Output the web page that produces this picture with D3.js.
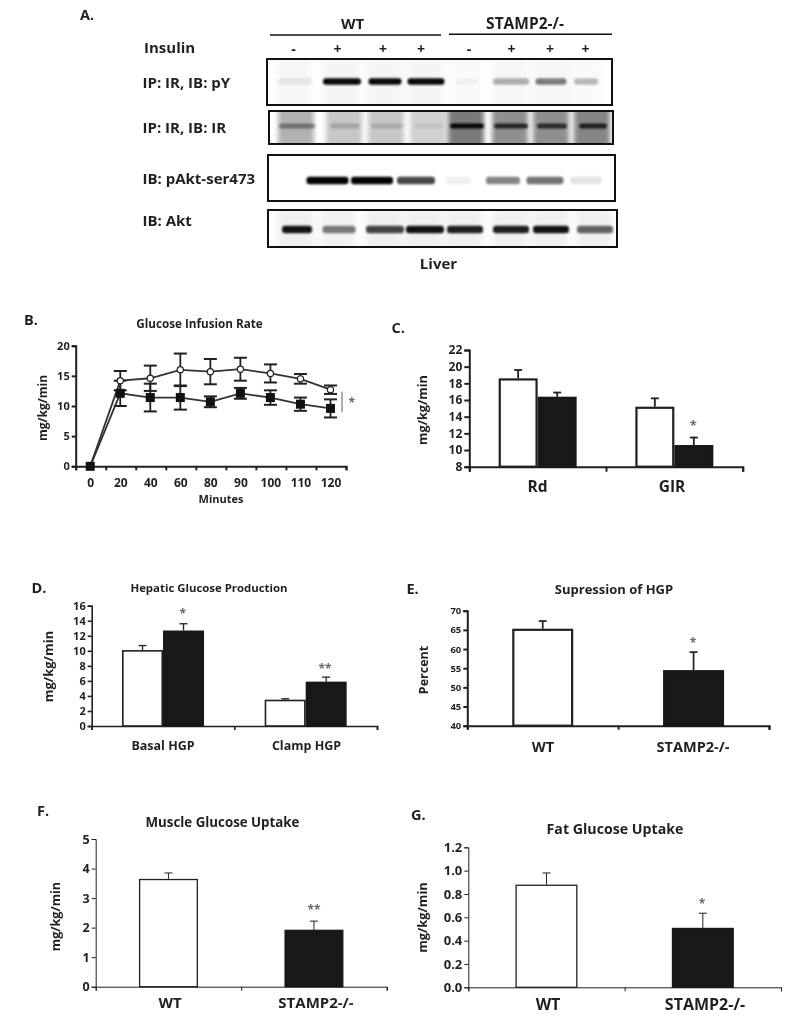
<!DOCTYPE html>
<html><head><meta charset="utf-8">
<script src="https://cdn.jsdelivr.net/npm/d3@7"></script>
<style>
html,body{margin:0;background:#fff}
svg{display:block;filter:blur(.4px)}
text{font-family:"Open Sans",sans-serif;font-weight:700;fill:#231f20}
</style></head><body>
<svg id="c" width="800" height="1030"></svg>
<script>
// ---------- data ----------
const insulinSigns = ["-","+","+","+","-","+","+","+"];
const blotNames = ["IP: IR, IB: pY","IP: IR, IB: IR","IB: pAkt-ser473","IB: Akt"];
const pYBands   = [.08,.97,.97,.97,.04,.3,.5,.26];
const irBands   = [.38,.18,.15,.06,.95,.75,.72,.8];
const pAktBands = [.0,1,1,.72,.06,.48,.55,.1];
const aktBands  = [.92,.5,.72,.93,.88,.88,.93,.6];
const pYHaze    = [.03,.04,.04,.04,.02,.03,.03,.02];
const irHaze    = [.3,.22,.22,.18,.52,.44,.44,.48];
const pAktHaze  = [0,0,0,0,0,0,0,0];
const aktHaze   = [.06,.05,.06,.06,.06,.06,.06,.06];

const minutes = ["0","20","40","60","80","90","100","110","120"];
const girWT   = [0,14.2,14.6,16,15.7,16.1,15.4,14.5,12.7];
const girWTe  = [0,1.6,2.1,2.7,2.1,1.9,1.5,.8,.7];
const girKO   = [0,12.1,11.4,11.4,10.7,12.1,11.4,10.3,9.6];
const girKOe  = [0,2.1,2.3,2,.9,.9,1.2,1.1,1.5];

const cCats=["Rd","GIR"];               const cWT=[18.6,15.2]; const cWTe=[1,1];     const cKO=[16.4,10.6]; const cKOe=[.5,.9];
const dCats=["Basal HGP","Clamp HGP"];  const dWT=[10.1,3.5];  const dWTe=[.6,.12];  const dKO=[12.7,5.9];  const dKOe=[.9,.6];
const genotypes=["WT","STAMP2-/-"];
const eVals=[65.3,54.5]; const eErr=[2,4.7];
const fVals=[3.65,1.93]; const fErr=[.2,.29];
const gVals=[.88,.51];   const gErr=[.1,.125];

// ---------- helpers ----------
const ink="#231f20";
const svg=d3.select("#c");
const defs=svg.append("defs");
[["b1",1.1],["b2",2.6],["b3",4.5]].forEach(([id,s])=>defs.append("filter").attr("id",id)
  .attr("x","-30%").attr("y","-100%").attr("width","160%").attr("height","300%")
  .append("feGaussianBlur").attr("stdDeviation",s));

function T(x,y,s,size,anchor="start",extra={}){
  const t=svg.append("text").attr("x",x).attr("y",y).attr("font-size",size).attr("text-anchor",anchor).text(s);
  if(extra.rotate) t.attr("transform",`rotate(-90 ${x} ${y})`);
  if(extra.fill) t.style("fill",extra.fill);
  return t;
}
function star(x,y,s,size=13){ T(x,y+size*.42,s,size,"middle",{fill:"#6a6a6a"}); }

function axes(o){
  const g=svg.append("g");
  const y=d3.scaleLinear().domain(o.yDomain).range([o.y0,o.y1]);
  const ya=g.append("g").attr("transform",`translate(${o.x0},0)`)
    .call(d3.axisLeft(y).tickValues(o.yTicks).tickSize(o.tick||5).tickFormat(o.yFmt||d3.format("d")));
  const xt=d3.scaleLinear().domain([0,o.n]).range([o.x0,o.x1]);
  const xa=g.append("g").attr("transform",`translate(0,${o.y0})`)
    .call(d3.axisBottom(xt).tickValues(d3.range(o.n+1)).tickSize(o.tick||5).tickFormat(""));
  [ya,xa].forEach(a=>{
    a.selectAll(".domain").attr("stroke",ink).attr("stroke-width",o.sw);
    a.selectAll(".tick line").attr("stroke",ink).attr("stroke-width",o.sw);
  });
  ya.selectAll(".tick text").attr("font-size",o.tickFont).attr("x",-(o.tick||5)-2);
  return y;
}
function errBar(x,top,base,cap,sw,color=ink){
  svg.append("line").attr("x1",x).attr("x2",x).attr("y1",base).attr("y2",top).attr("stroke",color).attr("stroke-width",sw);
  svg.append("line").attr("x1",x-cap/2).attr("x2",x+cap/2).attr("y1",top).attr("y2",top).attr("stroke",color).attr("stroke-width",sw);
}
function bar(x,w,v,y,filled,sw){
  svg.append("rect").attr("x",x+sw/2).attr("width",w-sw).attr("y",y(v)+sw/2).attr("height",y.range()[0]-y(v)-sw/2)
    .attr("fill",filled?"#1a1718":"#fff").attr("stroke",filled?"#1a1718":ink).attr("stroke-width",sw);
}

// ---------- A: blots ----------
const laneIdx=d3.range(8);
const rows=[
 {name:0,bands:pYBands,haze:pYHaze,blur:"b3",box:[267,59,345,46],bandY:81.5,h:6.5,
  cx:[295,342,385,426,467,511,551,586],w:[34,38,33,37,22,36,31,24],label:88},
 {name:1,bands:irBands,haze:irHaze,blur:"b2",box:[269,111,344,33],bandY:126,h:5,
  cx:[297,345,387,429,467,511,552,593],w:[36,30,32,30,34,34,30,28],label:133},
 {name:2,bands:pAktBands,haze:pAktHaze,blur:"b3",box:[268,155,347,46],bandY:180.5,h:7.5,
  cx:[286,327.5,372,416,458,503,545,586],w:[10,42,42,38,25,34,37,32],label:184},
 {name:3,bands:aktBands,haze:aktHaze,blur:"b3",box:[268,210,349,37],bandY:229.5,h:7.5,
  cx:[297,339,385,425,465,511,551,595],w:[30,33,38,38,36,36,36,36],label:226},
];
rows.forEach((r,i)=>{
  const [bx,by,bw,bh]=r.box;
  const lane=d3.scaleOrdinal(laneIdx,r.cx);
  defs.append("clipPath").attr("id","clip"+i).append("rect").attr("x",bx).attr("y",by).attr("width",bw).attr("height",bh);
  const g=svg.append("g").attr("clip-path",`url(#clip${i})`);
  g.selectAll(".haze").data(r.haze).join("rect").attr("class","haze")
    .attr("x",(d,k)=>lane(k)-19).attr("width",36).attr("y",by-8).attr("height",bh+16)
    .attr("fill","#000").attr("opacity",d=>d).attr("filter",`url(#${r.blur})`);
  g.selectAll(".band").data(r.bands).join("rect").attr("class","band")
    .attr("x",(d,k)=>lane(k)-r.w[k]/2).attr("width",(d,k)=>r.w[k])
    .attr("y",r.bandY-r.h/2).attr("height",r.h).attr("rx",3)
    .attr("fill","#000").attr("opacity",d=>d).attr("filter","url(#b1)");
  svg.append("rect").attr("x",bx).attr("y",by).attr("width",bw).attr("height",bh).attr("fill","none").attr("stroke","#111").attr("stroke-width",2);
  T(142.5,r.label,blotNames[r.name],15);
});
T(80,20,"A.",14.5);
T(352.5,29,"WT",15,"middle");
T(525,29,"STAMP2-/-",15.5,"middle");
svg.append("line").attr("x1",270).attr("x2",441).attr("y1",35).attr("y2",35).attr("stroke","#111").attr("stroke-width",1.6);
svg.append("line").attr("x1",449).attr("x2",612).attr("y1",34.3).attr("y2",34.3).attr("stroke","#111").attr("stroke-width",1.6);
T(144,53,"Insulin",15);
const signX=d3.scaleOrdinal(laneIdx,[293.6,337.4,383,421,469,511.5,550,585.5]);
insulinSigns.forEach((s,i)=>T(signX(i),54,s,14,"middle"));
T(438.5,268.5,"Liver",15,"middle");

// ---------- B: line chart ----------
{
  const y=axes({yDomain:[0,20],yTicks:[0,5,10,15,20],y0:466.3,y1:345.7,x0:75.7,x1:346,n:9,sw:2,tick:4,tickFont:11});
  const x=d3.scaleBand().domain(minutes).range([75.7,346]);
  const cx=d=>x(d)+x.bandwidth()/2-0.5;
  minutes.forEach(m=>T(cx(m)+.5,486.5,m,12,"middle"));
  const line=v=>d3.line().x((d,i)=>cx(minutes[i])).y(d=>y(d))(v);
  minutes.forEach((m,i)=>{ if(!i) return;
    [[girWT,girWTe],[girKO,girKOe]].forEach(([v,e])=>{
      const xx=cx(m);
      svg.append("line").attr("x1",xx).attr("x2",xx).attr("y1",y(v[i]-e[i])).attr("y2",y(v[i]+e[i])).attr("stroke",ink).attr("stroke-width",1.8);
      [1,-1].forEach(s=>svg.append("line").attr("x1",xx-6.5).attr("x2",xx+6.5).attr("y1",y(v[i]+s*e[i])).attr("y2",y(v[i]+s*e[i])).attr("stroke",ink).attr("stroke-width",2));
    });
  });
  svg.append("path").attr("d",line(girWT)).attr("fill","none").attr("stroke","#333").attr("stroke-width",1.8);
  svg.append("path").attr("d",line(girKO)).attr("fill","none").attr("stroke","#333").attr("stroke-width",1.8);
  svg.selectAll(".w").data(girWT).join("circle").attr("class","w").attr("cx",(d,i)=>cx(minutes[i])).attr("cy",d=>y(d)).attr("r",3.1).attr("fill","#fff").attr("stroke",ink).attr("stroke-width",1.2);
  svg.selectAll(".k").data(girKO).join("rect").attr("class","k").attr("x",(d,i)=>cx(minutes[i])-4.5).attr("y",d=>y(d)-4.5).attr("width",9).attr("height",9).attr("fill","#111");
  T(24,325,"B.",14.5);
  T(199.5,327.5,"Glucose Infusion Rate",11.7,"middle");
  T(221,503,"Minutes",11,"middle");
  T(47,408,"mg/kg/min",12,"middle",{rotate:true});
  svg.append("line").attr("x1",342).attr("x2",342).attr("y1",391.7).attr("y2",412.3).attr("stroke","#777").attr("stroke-width",1.2);
  star(351.7,402,"*",12);
}

// ---------- bar panels ----------
function grouped(o){
  const y=axes(o);
  const x=d3.scaleBand().domain(o.cats).range([o.x0,o.x1]);
  o.cats.forEach((c,i)=>{
    const mid=x(c)+x.bandwidth()/2;
    if(o.b){
      const wx=mid-o.bw;
      bar(wx,o.bw,o.a[i],y,false,o.bsw);
      bar(mid,o.bw,o.b[i],y,true,o.bsw);
      errBar(wx+o.bw/2,y(o.a[i]+o.ae[i]),y(o.a[i]),o.cap,o.esw);
      errBar(mid+o.bw/2,y(o.b[i]+o.be[i]),y(o.b[i]),o.cap,o.esw);
    } else {
      const f=i===1;
      bar(mid-o.bw/2,o.bw,o.a[i],y,f,o.bsw);
      errBar(mid,y(o.a[i]+o.ae[i]),y(o.a[i]),o.cap,o.esw);
    }
  });
  o.cats.forEach((c,i)=>T(o.labelX[i],o.labelY,c,o.labelFont,"middle"));
  return y;
}
grouped({yDomain:[8,22],yTicks:d3.range(8,23,2),y0:466.7,y1:350,x0:469.3,x1:742.7,n:2,sw:2,tick:5,tickFont:12,
  cats:cCats,a:cWT,ae:cWTe,b:cKO,be:cKOe,bw:39,bsw:2.2,cap:8,esw:1.8,labelX:[537.5,672],labelY:491.5,labelFont:15.5});
T(391.5,333,"C.",14.5);
T(426.5,410,"mg/kg/min",12.7,"middle",{rotate:true});
star(693.3,424.3,"*",13);

grouped({yDomain:[0,16],yTicks:d3.range(0,17,2),y0:726,y1:605.7,x0:91.7,x1:377,n:2,sw:1.6,tick:4,tickFont:11,
  cats:dCats,a:dWT,ae:dWTe,b:dKO,be:dKOe,bw:41,bsw:1.6,cap:8,esw:1.3,labelX:[163,306.5],labelY:750,labelFont:12.5});
T(31.5,592.5,"D.",14.5);
T(209,591.5,"Hepatic Glucose Production",11.4,"middle");
T(53,666.5,"mg/kg/min",13,"middle",{rotate:true});
star(182.7,613,"*",12); star(325,667.7,"**",12);

grouped({yDomain:[40,70],yTicks:d3.range(40,71,5),y0:725.7,y1:610.7,x0:467.3,x1:769,n:2,sw:2,tick:4,tickFont:9.5,
  cats:genotypes,a:eVals,ae:eErr,bw:61,bsw:2.2,cap:8,esw:1.7,labelX:[543,693],labelY:752,labelFont:14.5});
T(406.5,594,"E.",14.5);
T(614,594,"Supression of HGP",13,"middle");
T(428,670,"Percent",12.5,"middle",{rotate:true});
star(693,641.7,"*",12);

grouped({yDomain:[0,5],yTicks:d3.range(0,6),y0:986.7,y1:839,x0:95.7,x1:386.7,n:2,sw:1,tick:4,tickFont:12.5,
  cats:genotypes,a:fVals,ae:fErr,bw:59,bsw:1.3,cap:8,esw:1,labelX:[170,316],labelY:1007.5,labelFont:15});
T(37,815.5,"F.",14.5);
T(222.5,827,"Muscle Glucose Uptake",13.3,"middle");
T(60,916.5,"mg/kg/min",12.6,"middle",{rotate:true});
star(314,909,"**",12);

grouped({yDomain:[0,1.2],yTicks:[0,.2,.4,.6,.8,1,1.2],yFmt:d3.format(".1f"),y0:987.3,y1:847.3,x0:468.3,x1:781,n:2,sw:1,tick:4,tickFont:13,
  cats:genotypes,a:gVals,ae:gErr,bw:62,bsw:1.3,cap:8,esw:1,labelX:[548,705],labelY:1010,labelFont:16});
T(411,820,"G.",14.5);
T(615,834,"Fat Glucose Uptake",14.2,"middle");
T(427,917.5,"mg/kg/min",12.8,"middle",{rotate:true});
star(702,903,"*",12);
</script></body></html>
